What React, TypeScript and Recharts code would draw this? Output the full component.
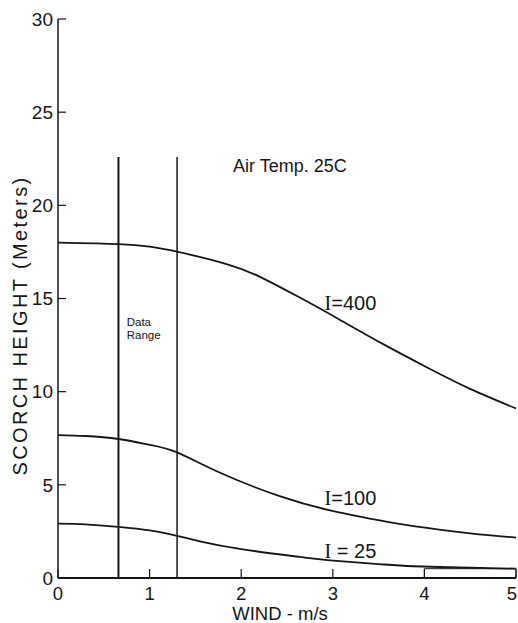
import React from 'react';
import { LineChart, Line, XAxis, YAxis, ReferenceLine, ReferenceArea, ReferenceDot } from 'recharts';

if (typeof document !== 'undefined') {
  document.body.style.margin = '0';
}

const xTicks = [0, 1, 2, 3, 4, 5];
const yTicks = [0, 5, 10, 15, 20, 25, 30];

const windI400 = [0, 0.66, 1.0, 1.31, 1.84, 2.21, 2.64, 3.08, 3.55, 4.03, 4.5, 5];
const heightI400 = [18.0, 17.92, 17.78, 17.5, 16.85, 16.15, 15.05, 13.85, 12.55, 11.3, 10.15, 9.1];

const windI100 = [0, 0.3, 0.66, 1.0, 1.3, 1.77, 2.42, 2.97, 3.5, 3.88, 4.5, 5];
const heightI100 = [7.67, 7.62, 7.46, 7.15, 6.74, 5.65, 4.39, 3.63, 3.1, 2.78, 2.4, 2.17];

const windI25 = [0, 0.3, 0.66, 1.0, 1.3, 1.55, 2.0, 2.64, 2.97, 3.5, 3.88, 4.5, 5];
const heightI25 = [2.92, 2.88, 2.74, 2.55, 2.26, 1.97, 1.55, 1.13, 0.95, 0.75, 0.63, 0.55, 0.5];

const dataRangeWind = [0.66, 1.3];
const dataRangeTop = 22.6;

const zip = (w: number[], h: number[]) => w.map((x, i) => ({ w: x, h: h[i] }));
const seriesI400 = zip(windI400, heightI400);
const seriesI100 = zip(windI100, heightI100);
const seriesI25 = zip(windI25, heightI25);

const FONT = '"Liberation Sans", Arial, Helvetica, sans-serif';
const INK = '#161616';

const textShape = (content: React.ReactNode, fontSize: number) => (p: any) => (
  <text x={p.cx} y={p.cy} fontSize={fontSize} fontFamily={FONT} fill={INK}>
    {content}
  </text>
);

const curveLabel = (value: string) => (
  <>
    <tspan fontFamily='"Liberation Serif", serif'>I</tspan>
    <tspan>{value}</tspan>
  </>
);

const XTick = (p: any) => {
  const last = p.payload.value === xTicks[xTicks.length - 1];
  return (
    <text x={p.x - (last ? 4 : 0)} y={p.y} dy="0.71em" textAnchor="middle" fontSize={18.5} fontFamily={FONT} fill={INK}>
      {p.payload.value}
    </text>
  );
};

export default function App() {
  return (
    <div style={{ width: 518, height: 623, overflow: 'hidden' }}>
      <LineChart width={518} height={623} margin={{ top: 19, right: 2, left: 0, bottom: 5 }}>
        <XAxis
          dataKey="w"
          type="number"
          domain={[0, 5]}
          ticks={xTicks}
          interval={0}
          height={40}
          tickSize={-9}
          tickMargin={18}
          axisLine={{ stroke: INK, strokeWidth: 2 }}
          tickLine={{ stroke: INK, strokeWidth: 1.2 }}
          tick={XTick}
          allowDataOverflow
          label={(p: any) => {
            const vb = p.viewBox;
            return (
              <text x={vb.x + vb.width / 2 - 7} y={vb.y + 41.5} textAnchor="middle" fontSize={18.5} fontFamily={FONT} fill={INK}>
                WIND - m/s
              </text>
            );
          }}
        />
        <YAxis
          type="number"
          domain={[0, 30]}
          ticks={yTicks}
          interval={0}
          width={58}
          tickSize={-8}
          tickMargin={13}
          axisLine={{ stroke: INK, strokeWidth: 1.5 }}
          tickLine={{ stroke: INK, strokeWidth: 1.2 }}
          tick={{ fontSize: 19, fill: INK, fontFamily: FONT }}
          allowDataOverflow
          label={(p: any) => {
            const vb = p.viewBox;
            const x = vb.x + 27;
            const y = vb.y + vb.height / 2 + 27;
            return (
              <text x={x} y={y} transform={`rotate(-90 ${x} ${y})`} textAnchor="middle" fontSize={20} fontFamily={FONT} fill={INK} letterSpacing={2.4}>
                SCORCH HEIGHT (Meters)
              </text>
            );
          }}
        />
        {dataRangeWind.map((w, i) => (
          <ReferenceLine
            key={i}
            segment={[{ x: w, y: 0 }, { x: w, y: dataRangeTop }]}
            stroke={INK}
            strokeWidth={i === 0 ? 2 : 1.5}
          />
        ))}
        <ReferenceArea x1={4} x2={5} y1={0} y2={0.5} fill="none" stroke={INK} strokeWidth={1} fillOpacity={0} />
        <Line data={seriesI400} dataKey="h" type="natural" stroke={INK} strokeWidth={1.8} dot={false} isAnimationActive={false} />
        <Line data={seriesI100} dataKey="h" type="natural" stroke={INK} strokeWidth={1.8} dot={false} isAnimationActive={false} />
        <Line data={seriesI25} dataKey="h" type="natural" stroke={INK} strokeWidth={1.8} dot={false} isAnimationActive={false} />
        <ReferenceDot x={1.91} y={21.8} r={1} shape={textShape('Air Temp. 25C', 18)} />
        <ReferenceDot x={2.91} y={14.4} r={1} shape={textShape(curveLabel('=400'), 20)} />
        <ReferenceDot x={2.91} y={3.91} r={1} shape={textShape(curveLabel('=100'), 20)} />
        <ReferenceDot x={2.91} y={1.06} r={1} shape={textShape(curveLabel(' = 25'), 20)} />
        <ReferenceDot
          x={0.75}
          y={13.5}
          r={1}
          shape={(p: any) => (
            <text x={p.cx} y={p.cy} fontSize={11.5} fontFamily={FONT} fill={INK}>
              <tspan x={p.cx}>Data</tspan>
              <tspan x={p.cx} dy={13}>Range</tspan>
            </text>
          )}
        />
      </LineChart>
    </div>
  );
}
